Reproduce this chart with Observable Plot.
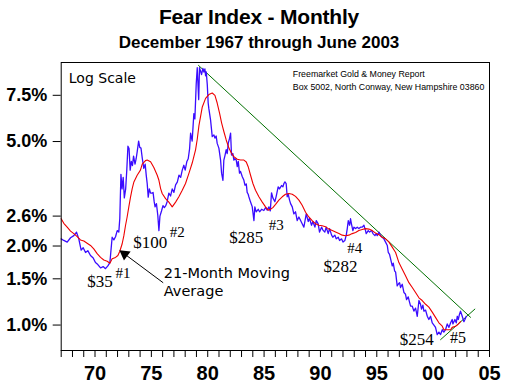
<!DOCTYPE html>
<html><head><meta charset="utf-8">
<script src="https://cdn.jsdelivr.net/npm/d3@7"></script>
<script src="https://cdn.jsdelivr.net/npm/@observablehq/plot@0.6"></script>
<style>
body{margin:0;background:#fff;}
#wrap{position:relative;width:518px;height:391px;overflow:hidden;background:#fff;}
#head{position:relative;height:52px;}
.t{position:absolute;left:0;width:518px;text-align:center;font-family:"Liberation Sans",Arial,sans-serif;font-weight:bold;white-space:nowrap;color:#000;}
#title{font-size:21px;line-height:21px;top:5.5px;letter-spacing:-0.2px;}
#sub{font-size:17px;line-height:17px;top:34.3px;}
</style></head><body>
<div id="wrap"><div id="head"><div class="t" id="title">Fear Index - Monthly</div><div class="t" id="sub">December 1967 through June 2003</div></div><div id="chart"></div></div>
<script>
// Fear index (monthly, %): [decimal year, value]
const fearMonthly = [[1967.00,2.13],[1967.23,2.10],[1967.53,2.07],[1967.83,2.15],[1968.12,2.19],[1968.36,2.26],[1968.56,2.13],[1968.77,1.93],[1968.95,1.97],[1969.16,1.89],[1969.36,1.92],[1969.60,1.84],[1969.84,1.80],[1970.04,1.73],[1970.25,1.70],[1970.49,1.65],[1970.72,1.67],[1970.93,1.64],[1971.14,1.68],[1971.32,1.73],[1971.52,2.16],[1971.67,2.11],[1971.82,2.17],[1971.97,2.29],[1972.11,2.26],[1972.20,2.55],[1972.30,3.75],[1972.40,3.30],[1972.50,3.65],[1972.60,3.05],[1972.72,3.30],[1972.82,3.90],[1972.92,4.80],[1973.02,4.70],[1973.12,3.89],[1973.22,4.20],[1973.32,4.05],[1973.42,4.40],[1973.55,4.10],[1973.65,4.30],[1973.75,4.60],[1973.87,5.02],[1973.97,4.75],[1974.08,4.72],[1974.20,4.30],[1974.33,3.95],[1974.45,4.10],[1974.55,3.70],[1974.63,3.46],[1974.72,3.07],[1974.82,3.30],[1974.93,3.18],[1975.05,3.18],[1975.15,3.20],[1975.25,2.95],[1975.33,2.82],[1975.45,2.90],[1975.57,2.62],[1975.67,2.29],[1975.76,2.60],[1975.90,2.72],[1976.03,2.85],[1976.15,2.80],[1976.28,2.85],[1976.40,2.95],[1976.55,3.18],[1976.70,3.10],[1976.85,3.30],[1977.00,3.20],[1977.15,3.42],[1977.30,3.50],[1977.45,3.72],[1977.60,3.65],[1977.74,3.89],[1977.88,4.06],[1978.00,3.89],[1978.15,4.20],[1978.27,4.30],[1978.39,4.69],[1978.48,5.38],[1978.62,5.02],[1978.77,6.39],[1978.86,6.10],[1978.98,8.30],[1979.07,9.55],[1979.20,7.22],[1979.27,9.55],[1979.45,9.00],[1979.57,9.50],[1979.66,9.20],[1979.75,9.45],[1979.81,8.90],[1979.87,9.20],[1979.96,8.24],[1980.04,7.01],[1980.10,6.67],[1980.25,6.05],[1980.40,5.22],[1980.55,5.30],[1980.64,5.15],[1980.75,5.25],[1980.84,4.92],[1980.99,4.72],[1981.14,4.25],[1981.23,3.79],[1981.35,3.56],[1981.43,4.25],[1981.52,4.40],[1981.64,4.66],[1981.73,4.50],[1981.82,4.92],[1981.94,5.15],[1982.03,5.38],[1982.11,4.44],[1982.23,4.50],[1982.32,4.25],[1982.41,4.30],[1982.53,4.25],[1982.62,4.01],[1982.71,4.20],[1982.82,3.79],[1982.91,3.85],[1983.06,3.68],[1983.21,3.56],[1983.30,3.41],[1983.42,3.45],[1983.50,3.20],[1983.59,3.15],[1983.65,3.08],[1983.80,2.94],[1983.95,2.82],[1984.10,2.50],[1984.18,2.82],[1984.30,2.70],[1984.48,2.76],[1984.60,2.70],[1984.78,2.76],[1984.98,2.73],[1985.13,2.80],[1985.28,2.74],[1985.43,2.82],[1985.55,2.72],[1985.66,3.19],[1985.78,3.05],[1985.96,2.95],[1986.08,3.10],[1986.25,3.36],[1986.37,3.30],[1986.55,3.40],[1986.67,3.36],[1986.76,3.46],[1986.85,3.51],[1986.96,3.46],[1987.05,3.08],[1987.14,3.15],[1987.26,2.99],[1987.35,2.90],[1987.50,2.82],[1987.64,2.65],[1987.79,2.70],[1987.94,2.50],[1988.09,2.58],[1988.24,2.50],[1988.38,2.43],[1988.53,2.36],[1988.62,2.48],[1988.74,2.65],[1988.92,2.48],[1989.03,2.55],[1989.21,2.40],[1989.33,2.48],[1989.51,2.36],[1989.63,2.50],[1989.80,2.43],[1989.92,2.26],[1990.10,2.36],[1990.22,2.30],[1990.39,2.26],[1990.51,2.36],[1990.69,2.23],[1990.81,2.33],[1990.99,2.20],[1991.10,2.16],[1991.28,2.20],[1991.40,2.13],[1991.58,2.16],[1991.70,2.10],[1991.87,2.13],[1992.00,2.07],[1992.17,2.10],[1992.29,2.20],[1992.38,2.33],[1992.47,2.50],[1992.59,2.40],[1992.67,2.54],[1992.76,2.42],[1992.88,2.29],[1992.97,2.36],[1993.12,2.33],[1993.27,2.36],[1993.41,2.33],[1993.56,2.36],[1993.71,2.36],[1993.86,2.40],[1994.00,2.29],[1994.06,2.23],[1994.24,2.29],[1994.36,2.26],[1994.54,2.29],[1994.66,2.23],[1994.83,2.19],[1994.95,2.23],[1995.04,2.19],[1995.19,2.26],[1995.34,2.19],[1995.48,2.16],[1995.63,2.13],[1995.78,2.07],[1995.93,2.01],[1996.02,1.89],[1996.13,1.86],[1996.22,1.79],[1996.37,1.68],[1996.46,1.72],[1996.58,1.61],[1996.67,1.59],[1996.81,1.41],[1996.90,1.43],[1997.02,1.45],[1997.11,1.39],[1997.26,1.43],[1997.41,1.33],[1997.55,1.31],[1997.64,1.25],[1997.79,1.28],[1997.91,1.22],[1998.00,1.18],[1998.15,1.18],[1998.29,1.13],[1998.44,1.16],[1998.59,1.08],[1998.74,1.24],[1998.88,1.20],[1998.97,1.15],[1999.09,1.19],[1999.18,1.13],[1999.33,1.14],[1999.48,1.08],[1999.62,1.05],[1999.77,1.08],[1999.92,1.02],[2000.07,1.00],[2000.21,0.98],[2000.36,0.92],[2000.51,0.94],[2000.66,0.92],[2000.81,0.96],[2000.95,0.94],[2001.10,0.96],[2001.25,1.01],[2001.40,0.98],[2001.55,1.02],[2001.69,1.05],[2001.75,1.01],[2001.93,1.05],[2002.05,1.02],[2002.14,1.08],[2002.23,1.05],[2002.34,1.10],[2002.43,1.13],[2002.58,1.08],[2002.73,1.03],[2002.82,1.05],[2002.94,1.08]];

// 21-month moving average (%)
const movingAvg21 = [[1967.00,2.54],[1967.23,2.44],[1967.53,2.36],[1967.83,2.28],[1968.12,2.23],[1968.42,2.17],[1968.71,2.11],[1969.01,2.09],[1969.30,2.05],[1969.60,2.01],[1969.89,1.95],[1970.19,1.87],[1970.49,1.81],[1970.78,1.77],[1971.08,1.75],[1971.32,1.72],[1971.52,1.79],[1971.82,1.81],[1972.03,1.84],[1972.20,1.91],[1972.41,2.04],[1972.56,2.19],[1972.71,2.40],[1972.85,2.58],[1973.00,2.82],[1973.15,3.07],[1973.30,3.31],[1973.45,3.51],[1973.74,3.72],[1974.03,3.89],[1974.19,4.10],[1974.48,4.23],[1974.63,4.25],[1974.93,4.19],[1975.22,3.98],[1975.52,3.72],[1975.67,3.56],[1975.82,3.31],[1975.96,3.17],[1976.26,3.03],[1976.55,2.94],[1976.85,2.82],[1977.15,2.94],[1977.44,3.08],[1977.74,3.26],[1978.03,3.46],[1978.33,3.78],[1978.63,4.15],[1978.92,4.65],[1979.07,5.10],[1979.22,5.75],[1979.51,6.75],[1979.81,7.30],[1980.10,7.55],[1980.40,7.65],[1980.64,7.50],[1980.84,7.01],[1981.05,6.42],[1981.23,5.89],[1981.43,5.46],[1981.64,5.07],[1981.88,4.72],[1982.11,4.51],[1982.32,4.38],[1982.62,4.28],[1982.91,4.25],[1983.21,4.25],[1983.42,4.18],[1983.59,4.01],[1983.80,3.72],[1984.01,3.46],[1984.24,3.26],[1984.54,3.08],[1984.84,2.94],[1985.13,2.82],[1985.37,2.74],[1985.57,2.76],[1985.78,2.80],[1986.02,2.88],[1986.31,2.99],[1986.61,3.08],[1986.90,3.15],[1987.20,3.17],[1987.50,3.15],[1987.79,3.09],[1988.09,2.99],[1988.38,2.86],[1988.68,2.69],[1988.97,2.58],[1989.27,2.50],[1989.57,2.43],[1989.86,2.40],[1990.16,2.39],[1990.45,2.37],[1990.75,2.32],[1991.05,2.29],[1991.34,2.26],[1991.64,2.23],[1991.93,2.20],[1992.23,2.19],[1992.52,2.20],[1992.82,2.23],[1993.12,2.25],[1993.41,2.29],[1993.71,2.31],[1994.00,2.33],[1994.30,2.32],[1994.60,2.29],[1994.89,2.24],[1995.19,2.21],[1995.48,2.16],[1995.78,2.13],[1996.08,2.07],[1996.37,1.98],[1996.67,1.89],[1996.96,1.73],[1997.26,1.63],[1997.55,1.54],[1997.85,1.45],[1998.15,1.39],[1998.44,1.33],[1998.74,1.27],[1999.03,1.24],[1999.33,1.20],[1999.62,1.17],[1999.92,1.12],[2000.21,1.07],[2000.51,1.02],[2000.81,0.99],[2000.95,0.96],[2001.25,0.96],[2001.55,0.96],[2001.69,0.98],[2001.99,0.99],[2002.14,1.00],[2002.43,1.03]];

// trend lines (endpoints)
const trendDown = [[1979.18,9.75],[2003.32,1.07]];
const trendUp = [[2000.66,0.88],[2003.70,1.15]];

// axis ticks
const yTicks = [1.0, 1.5, 2.0, 2.6, 5.0, 7.5];
const yearTicks = d3.range(1967, 2006);
const labelYears = [1970, 1975, 1980, 1985, 1990, 1995, 2000, 2005];

// annotations
const noteText = ["$35", "#1", "$100", "#2", "$285", "#3", "$282", "#4", "$254", "#5"];
const noteX = [1970.44, 1972.48, 1974.90, 1977.29, 1983.42, 1986.09, 1991.78, 1993.04, 1998.54, 2002.20];
const noteY = [1.47, 1.58, 2.07, 2.26, 2.16, 2.41, 1.675, 1.965, 0.88, 0.89];
const noteSize = [17, 15, 17, 15, 17, 15, 17, 15, 17, 16];
const maLabel = ["21-Month Moving", "Average"];
const maLabelX = [1976.1, 1976.1];
const maLabelY = [1.51, 1.29];
const arrowTail = [1976.05, 1.449];
const arrowHead = [1972.63, 1.864];
const sourceLines = ["Freemarket Gold & Money Report", "Box 5002, North Conway, New Hampshire 03860"];

const toObj = a => a.map(([t, v]) => ({t, v}));
const notes = noteText.map((s, i) => ({s, x: noteX[i], y: noteY[i], size: noteSize[i]}));
const maNotes = maLabel.map((s, i) => ({s, x: maLabelX[i], y: maLabelY[i]}));

const chart = Plot.plot({
  width: 518, height: 339,
  marginTop: 10, marginBottom: 41, marginLeft: 60.7, marginRight: 29,
  style: {background: "white", fontFamily: "Liberation Sans, Arial, sans-serif", overflow: "visible", color: "black"},
  x: {domain: [1967, 2005]},
  y: {type: "log", domain: [0.8, 10]},
  marks: [
    Plot.axisY({ticks: yTicks, tickFormat: d => d.toFixed(1) + "%", tickSize: 8, tickPadding: 6, fontSize: 18, fontWeight: "bold", label: null, stroke: "black"}),
    Plot.axisX({ticks: yearTicks, tickFormat: () => "", tickSize: 7, tickPadding: 0, label: null}),
    Plot.axisX({ticks: labelYears, tickFormat: d => String(d % 100).padStart(2, "0"), tickSize: 0, tickPadding: 15, fontSize: 20, fontWeight: "bold", label: null}),
    Plot.line(toObj(trendDown), {x: "t", y: "v", stroke: "#007000", strokeWidth: 1}),
    Plot.line(toObj(trendUp), {x: "t", y: "v", stroke: "#007000", strokeWidth: 1}),
    Plot.line(toObj(fearMonthly), {x: "t", y: "v", stroke: "#3a0cff", strokeWidth: 1.3}),
    Plot.line(toObj(movingAvg21), {x: "t", y: "v", stroke: "#ee0000", strokeWidth: 1.1}),
    Plot.frame({stroke: "black", strokeWidth: 1}),
    Plot.text(notes, {x: "x", y: "y", text: "s", fontFamily: "Liberation Serif, Times New Roman, serif", fontSize: d => d.size, textAnchor: "middle", lineAnchor: "middle", fill: "black"}),
    Plot.text(maNotes, {x: "x", y: "y", text: "s", fontFamily: "DejaVu Sans, Verdana, sans-serif", fontSize: 14.5, textAnchor: "start", lineAnchor: "bottom", fill: "black"}),
    Plot.link([0], {x1: () => arrowTail[0], y1: () => arrowTail[1], x2: () => arrowHead[0], y2: () => arrowHead[1], stroke: "black", strokeWidth: 1}),
    Plot.dot([0], {x: () => arrowHead[0], y: () => arrowHead[1], symbol: "triangle", r: 4.2, fill: "black", stroke: "none", rotate: -54}),
    Plot.text(["Log Scale"], {frameAnchor: "top-left", dx: 7.6, dy: 20.7, lineAnchor: "bottom", textAnchor: "start", fontFamily: "DejaVu Sans, Verdana, sans-serif", fontSize: 14, fill: "black"}),
    Plot.text([sourceLines[0]], {frameAnchor: "top-left", dx: 231.6, dy: 14.7, lineAnchor: "bottom", textAnchor: "start", fontSize: 8.8, fill: "black"}),
    Plot.text([sourceLines[1]], {frameAnchor: "top-left", dx: 231.6, dy: 27.3, lineAnchor: "bottom", textAnchor: "start", fontSize: 8.8, fill: "black"})
  ]
});
document.getElementById("chart").appendChild(chart);
</script>
</body></html>
